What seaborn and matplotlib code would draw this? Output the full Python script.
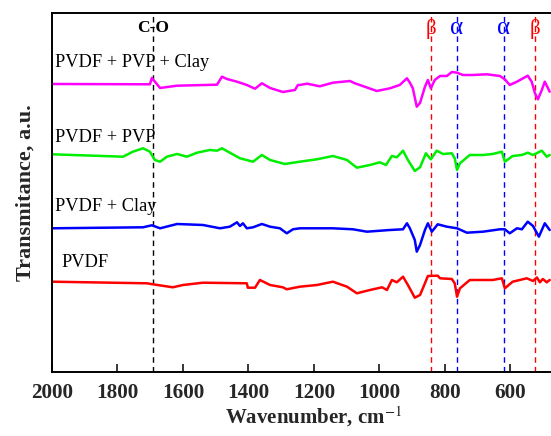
import numpy as np
import pandas as pd
import matplotlib
matplotlib.use("Agg")
import matplotlib.pyplot as plt
import seaborn as sns

sns.set_style("white")
plt.rcParams["font.family"] = ["Liberation Serif", "DejaVu Serif"]
plt.rcParams["mathtext.fontset"] = "stix"

# spectra (wavenumber in cm-1, transmittance in a.u. with offsets)
wn_pvdf_pvp_clay = [2000, 1701, 1695, 1670, 1618, 1496, 1481, 1466, 1435, 1405, 1380, 1359, 1334,
                    1295, 1258, 1249, 1243, 1221, 1182, 1142, 1090, 1075, 1060, 1008, 968, 938, 916,
                    907, 898, 886, 876, 861, 852, 843, 831, 815, 794, 779, 763, 745, 715, 672, 632,
                    617, 602, 580, 547, 535, 525, 516, 504, 495, 480]
t_pvdf_pvp_clay = [288, 287.7, 294, 284, 286.3, 287.3, 295.3, 293, 290.3, 287, 283.3, 288.7, 284,
                   280, 282, 287, 287, 288.3, 285.7, 289.3, 291, 288.7, 287, 281, 283.7, 287, 293.7,
                   289.3, 283.7, 265.3, 269, 285.3, 292, 283.7, 292, 296, 296, 300, 299.3, 297, 297,
                   297.7, 296, 292.7, 287, 290.3, 296.3, 290.3, 278.7, 272.7, 282, 290.3, 280.3]

wn_pvdf_pvp = [2000, 1783, 1753, 1722, 1701, 1686, 1670, 1649, 1618, 1588, 1557, 1518, 1496, 1481,
               1457, 1426, 1386, 1359, 1334, 1289, 1243, 1191, 1142, 1099, 1069, 1029, 999, 980,
               962, 947, 928, 913, 892, 876, 858, 843, 825, 806, 779, 770, 763, 754, 724, 684,
               654, 626, 617, 593, 565, 547, 531, 504, 489, 480]
t_pvdf_pvp = [217.7, 215.3, 220.3, 223.7, 220.3, 212, 210.3, 215.3, 218, 215.3, 219.3, 222, 221.3,
              223.7, 219.3, 213.7, 210.3, 217, 212, 208, 210.3, 212.7, 216, 212, 204.3, 207, 209.7,
              207, 216, 214.7, 221.3, 212, 201, 204.7, 218.7, 212.7, 221.3, 218, 218.7, 213.7, 202,
              208.7, 217, 217, 218, 220.3, 210.3, 216, 217, 219.3, 217, 221.3, 215.3, 217]

wn_pvdf_clay = [2000, 1722, 1695, 1670, 1618, 1539, 1487, 1457, 1435, 1426, 1417, 1405, 1386, 1359,
                1334, 1304, 1283, 1264, 1243, 1142, 1081, 1038, 968, 928, 916, 907, 892, 886, 876,
                861, 852, 840, 822, 794, 763, 733, 684, 632, 617, 602, 580, 565, 547, 531, 513,
                495, 480]
t_pvdf_clay = [143.7, 144.7, 146.7, 143.7, 148, 147, 143.7, 145.3, 149.7, 146, 148.7, 143.7, 144.7,
               148, 145.3, 143.7, 138.7, 142.7, 143.7, 143.7, 142.7, 140.3, 142, 142.7, 148.7,
               143.7, 132, 120.3, 127, 142, 148.7, 140.3, 147.7, 145.3, 143.7, 139.3, 140.3, 142.7,
               142.7, 138.7, 143.7, 142.7, 150.3, 146, 135.3, 148.7, 142]

wn_pvdf = [2000, 1710, 1692, 1631, 1600, 1539, 1405, 1402, 1380, 1365, 1334, 1295, 1283, 1243,
           1191, 1142, 1099, 1069, 1029, 992, 977, 962, 947, 928, 913, 892, 876, 861, 852, 822,
           815, 779, 770, 763, 754, 724, 684, 654, 626, 617, 593, 550, 531, 519, 510, 501, 489,
           480]
t_pvdf = [90.3, 88.7, 87.7, 84.7, 87, 89.3, 88.7, 84.3, 84.3, 92, 87, 84.7, 82.7, 85.3, 87, 90.3,
          85.3, 78.7, 82, 84.7, 82, 92, 89.7, 95.3, 87, 74.3, 77, 88.7, 96, 96.3, 93.7, 93, 88.7,
          75.3, 83.7, 92, 92, 92, 93.7, 83.7, 90.3, 93.7, 91, 94.5, 89.7, 93, 89.7, 92]

series = [
    ("PVDF + PVP + Clay", wn_pvdf_pvp_clay, t_pvdf_pvp_clay, "#ff00ff"),
    ("PVDF + PVP", wn_pvdf_pvp, t_pvdf_pvp, "#00ee00"),
    ("PVDF + Clay", wn_pvdf_clay, t_pvdf_clay, "#0000ff"),
    ("PVDF", wn_pvdf, t_pvdf, "#ff0000"),
]

# label positions (wavenumber, transmittance)
label_pos = {"PVDF + PVP + Clay": (1990, 309), "PVDF + PVP": (1990, 234),
             "PVDF + Clay": (1990, 165), "PVDF": (1972, 109)}

# marker bands
band_wn = [1692, 843, 763, 620, 525]
band_txt = ["C-O", "β", "α", "α", "β"]
band_col = ["black", "red", "blue", "blue", "red"]

fig = plt.figure(figsize=(5.51, 4.36), dpi=100)
ax = fig.add_axes([0.0944, 0.1468, 0.9056, 0.8241])

for name, wn, t, col in series:
    df = pd.DataFrame({"wn": wn, "t": t})
    sns.lineplot(data=df, x="wn", y="t", color=col, lw=1.8, sort=False,
                 estimator=None, ax=ax)
    lx, ly = label_pos[name]
    ax.text(lx, ly, name, fontsize=13.2, color="black", va="center", ha="left")

for w, txt, col in zip(band_wn, band_txt, band_col):
    ax.axvline(w, color=col, lw=1.0, ls=(0, (4, 3)), zorder=1)
    if txt == "C-O":
        ax.text(w, 344, txt, fontsize=12.5, color=col, fontweight="bold",
                ha="center", va="center")
    elif txt == "α":
        ax.text(w, 344, txt, fontsize=18, color=col, ha="center", va="center")
    else:
        ax.text(w, 343, txt, fontsize=15, color=col, ha="center", va="center")

ax.set_xlim(2000, 476)
ax.set_ylim(0, 359.3)
ax.set_xticks([2000, 1800, 1600, 1400, 1200, 1000, 800, 600])
ax.set_yticks([])
ax.tick_params(axis="x", direction="in", length=6, width=1.3, labelsize=15.2, pad=8,
               top=False, bottom=True)
for lab in ax.get_xticklabels():
    lab.set_fontweight("bold")
ax.set_xlabel(r"Wavenumber, cm$^{-1}$", fontsize=15, fontweight="bold", labelpad=4)
ax.xaxis.set_label_coords(0.525, -0.09)
ax.set_ylabel("Transmitance, a.u.", fontsize=16, fontweight="bold", labelpad=12)
for side in ["left", "bottom", "top"]:
    ax.spines[side].set_color("black")
    ax.spines[side].set_linewidth(1.4)
ax.spines["right"].set_visible(False)

fig.savefig("out.png", dpi=100)
